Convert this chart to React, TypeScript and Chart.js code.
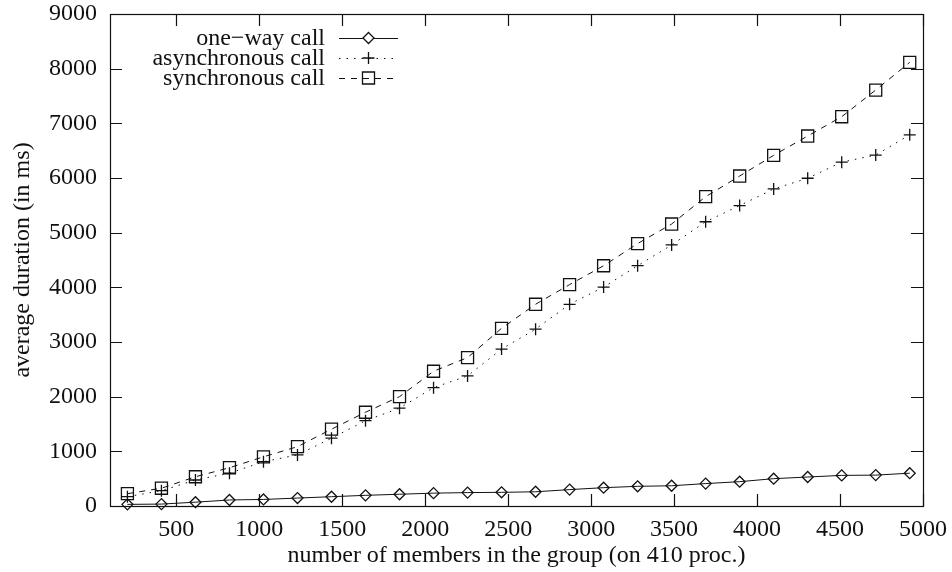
import React, { useEffect, useRef } from "react";
import { Chart, registerables } from "chart.js";

Chart.register(...registerables);

const MEMBERS = [205, 410, 615, 820, 1025, 1230, 1435, 1640, 1845, 2050, 2255, 2460, 2665, 2870, 3075, 3280, 3485, 3690, 3895, 4100, 4305, 4510, 4715, 4920];
const ONE_WAY = [30, 35, 70, 110, 120, 145, 170, 195, 215, 235, 245, 250, 260, 300, 335, 360, 370, 410, 445, 500, 530, 560, 565, 600];
const ASYNC = [170, 280, 476, 600, 810, 935, 1240, 1560, 1790, 2165, 2380, 2870, 3235, 3690, 4005, 4396, 4775, 5200, 5495, 5800, 5995, 6290, 6420, 6790];
const SYNC = [225, 325, 535, 700, 900, 1085, 1405, 1715, 2000, 2465, 2715, 3250, 3690, 4050, 4395, 4800, 5158, 5658, 6036, 6415, 6768, 7121, 7609, 8116];
const SERIES_LABELS = ["one\u2212way call", "asynchronous call", "synchronous call"];
const X_TICKS = [500, 1000, 1500, 2000, 2500, 3000, 3500, 4000, 4500, 5000];
const Y_TICKS = [0, 1000, 2000, 3000, 4000, 5000, 6000, 7000, 8000, 9000];
const X_TITLE = "number of members in the group (on 410 proc.)";
const Y_TITLE = "average duration (in ms)";

const FONT = "'Liberation Serif', 'Times New Roman', serif";
const FS = 24;
const INK = "#111";

const frameTicks = {
  id: "frameTicks",
  afterDatasetsDraw(chart: any) {
    const { ctx, chartArea, scales } = chart;
    const { left, right, top, bottom } = chartArea;
    const tl = 12;
    ctx.save();
    ctx.strokeStyle = INK;
    ctx.lineWidth = 1.2;
    ctx.setLineDash([]);
    ctx.beginPath();
    scales.x.ticks.forEach((t: any) => {
      const px = Math.round(scales.x.getPixelForValue(t.value)) + 0.5;
      ctx.moveTo(px, bottom);
      ctx.lineTo(px, bottom - tl);
      ctx.moveTo(px, top);
      ctx.lineTo(px, top + tl);
    });
    scales.y.ticks.forEach((t: any) => {
      const py = Math.round(scales.y.getPixelForValue(t.value)) + 0.5;
      ctx.moveTo(left, py);
      ctx.lineTo(left + tl, py);
      ctx.moveTo(right, py);
      ctx.lineTo(right - tl, py);
    });
    ctx.stroke();
    ctx.strokeRect(Math.round(left) + 0.5, Math.round(top) + 0.5, Math.round(right - left), Math.round(bottom - top));
    ctx.restore();
  },
};

const gnuLegend = {
  id: "gnuLegend",
  afterDraw(chart: any) {
    const { ctx, chartArea } = chart;
    const textRight = chartArea.left + 215;
    const x0 = chartArea.left + 229;
    const x1 = chartArea.left + 288;
    const xm = (x0 + x1) / 2;
    ctx.save();
    ctx.font = `${FS}px ${FONT}`;
    ctx.textAlign = "right";
    ctx.textBaseline = "middle";
    chart.data.datasets.forEach((ds: any, i: number) => {
      const y = chartArea.top + 24 + i * 20;
      ctx.fillStyle = INK;
      ctx.fillText(ds.label, textRight, y + 1);
      ctx.strokeStyle = INK;
      ctx.lineWidth = 1;
      ctx.setLineDash(ds.borderDash || []);
      ctx.beginPath();
      ctx.moveTo(x0, y + 0.5);
      ctx.lineTo(x1, y + 0.5);
      ctx.stroke();
      ctx.setLineDash([]);
      ctx.lineWidth = 1.3;
      ctx.beginPath();
      const r = ds.pointRadius;
      if (ds.pointStyle === "rectRot") {
        ctx.moveTo(xm, y - r); ctx.lineTo(xm + r, y); ctx.lineTo(xm, y + r); ctx.lineTo(xm - r, y); ctx.closePath();
        ctx.fillStyle = "#fff";
        ctx.fill();
      } else if (ds.pointStyle === "cross") {
        ctx.moveTo(xm - r, y); ctx.lineTo(xm + r, y); ctx.moveTo(xm, y - r); ctx.lineTo(xm, y + r);
      } else {
        const h = r * Math.SQRT1_2;
        ctx.rect(xm - h, y - h, 2 * h, 2 * h);
      }
      ctx.stroke();
    });
    ctx.restore();
  },
};

export default function App() {
  const ref = useRef<HTMLCanvasElement | null>(null);

  useEffect(() => {
    document.body.style.margin = "0";
    const mk = (ys: number[]) => MEMBERS.map((x, i) => ({ x, y: ys[i] }));
    const base = {
      borderColor: INK,
      backgroundColor: "rgba(0,0,0,0)",
      pointBorderColor: INK,
      pointBackgroundColor: "rgba(0,0,0,0)",
      borderWidth: 1,
      pointBorderWidth: 1.3,
      tension: 0,
      clip: false as any,
    };
    const chart = new Chart(ref.current as HTMLCanvasElement, {
      type: "line",
      data: {
        datasets: [
          { ...base, label: SERIES_LABELS[0], data: mk(ONE_WAY), pointStyle: "rectRot", pointRadius: 5.5, borderDash: [] },
          { ...base, label: SERIES_LABELS[1], data: mk(ASYNC), pointStyle: "cross", pointRadius: 6, borderDash: [1.5, 6] },
          { ...base, label: SERIES_LABELS[2], data: mk(SYNC), pointStyle: "rect", pointRadius: 8.5, borderDash: [6, 6] },
        ] as any,
      },
      options: {
        animation: false,
        responsive: false,
        layout: { padding: { top: 14, right: 29, left: 0, bottom: 0 } },
        plugins: { legend: { display: false }, tooltip: { enabled: false } },
        scales: {
          x: {
            type: "linear",
            min: 100,
            max: 5000,
            afterBuildTicks: (s: any) => { s.ticks = X_TICKS.map((v) => ({ value: v })); },
            afterFit: (s: any) => { s.height = 66; s.paddingLeft = 0; s.paddingRight = 0; s.paddingTop = 0; s.paddingBottom = 0; },
            grid: { display: false, drawTicks: false },
            border: { display: false },
            ticks: { color: INK, font: { family: FONT, size: FS }, padding: 9, maxRotation: 0, autoSkip: false, callback: (v: any) => String(v) },
            title: { display: true, text: X_TITLE, color: INK, font: { family: FONT, size: FS }, padding: { top: 0, bottom: 2 } },
          },
          y: {
            type: "linear",
            min: 0,
            max: 9000,
            afterBuildTicks: (s: any) => { s.ticks = Y_TICKS.map((v) => ({ value: v })); },
            afterFit: (s: any) => { s.width = 110; s.paddingLeft = 0; s.paddingRight = 0; s.paddingTop = 0; s.paddingBottom = 0; },
            grid: { display: false, drawTicks: false },
            border: { display: false },
            ticks: { color: INK, font: { family: FONT, size: FS }, padding: 13, autoSkip: false, callback: (v: any) => String(v) },
            title: { display: true, text: Y_TITLE, color: INK, font: { family: FONT, size: FS }, padding: { top: 8, bottom: 0 } },
          },
        },
      },
      plugins: [frameTicks, gnuLegend],
    });
    return () => chart.destroy();
  }, []);

  return (
    <div style={{ width: 952, height: 572, background: "#fff" }}>
      <canvas ref={ref} width={952} height={572} style={{ display: "block" }} />
    </div>
  );
}
